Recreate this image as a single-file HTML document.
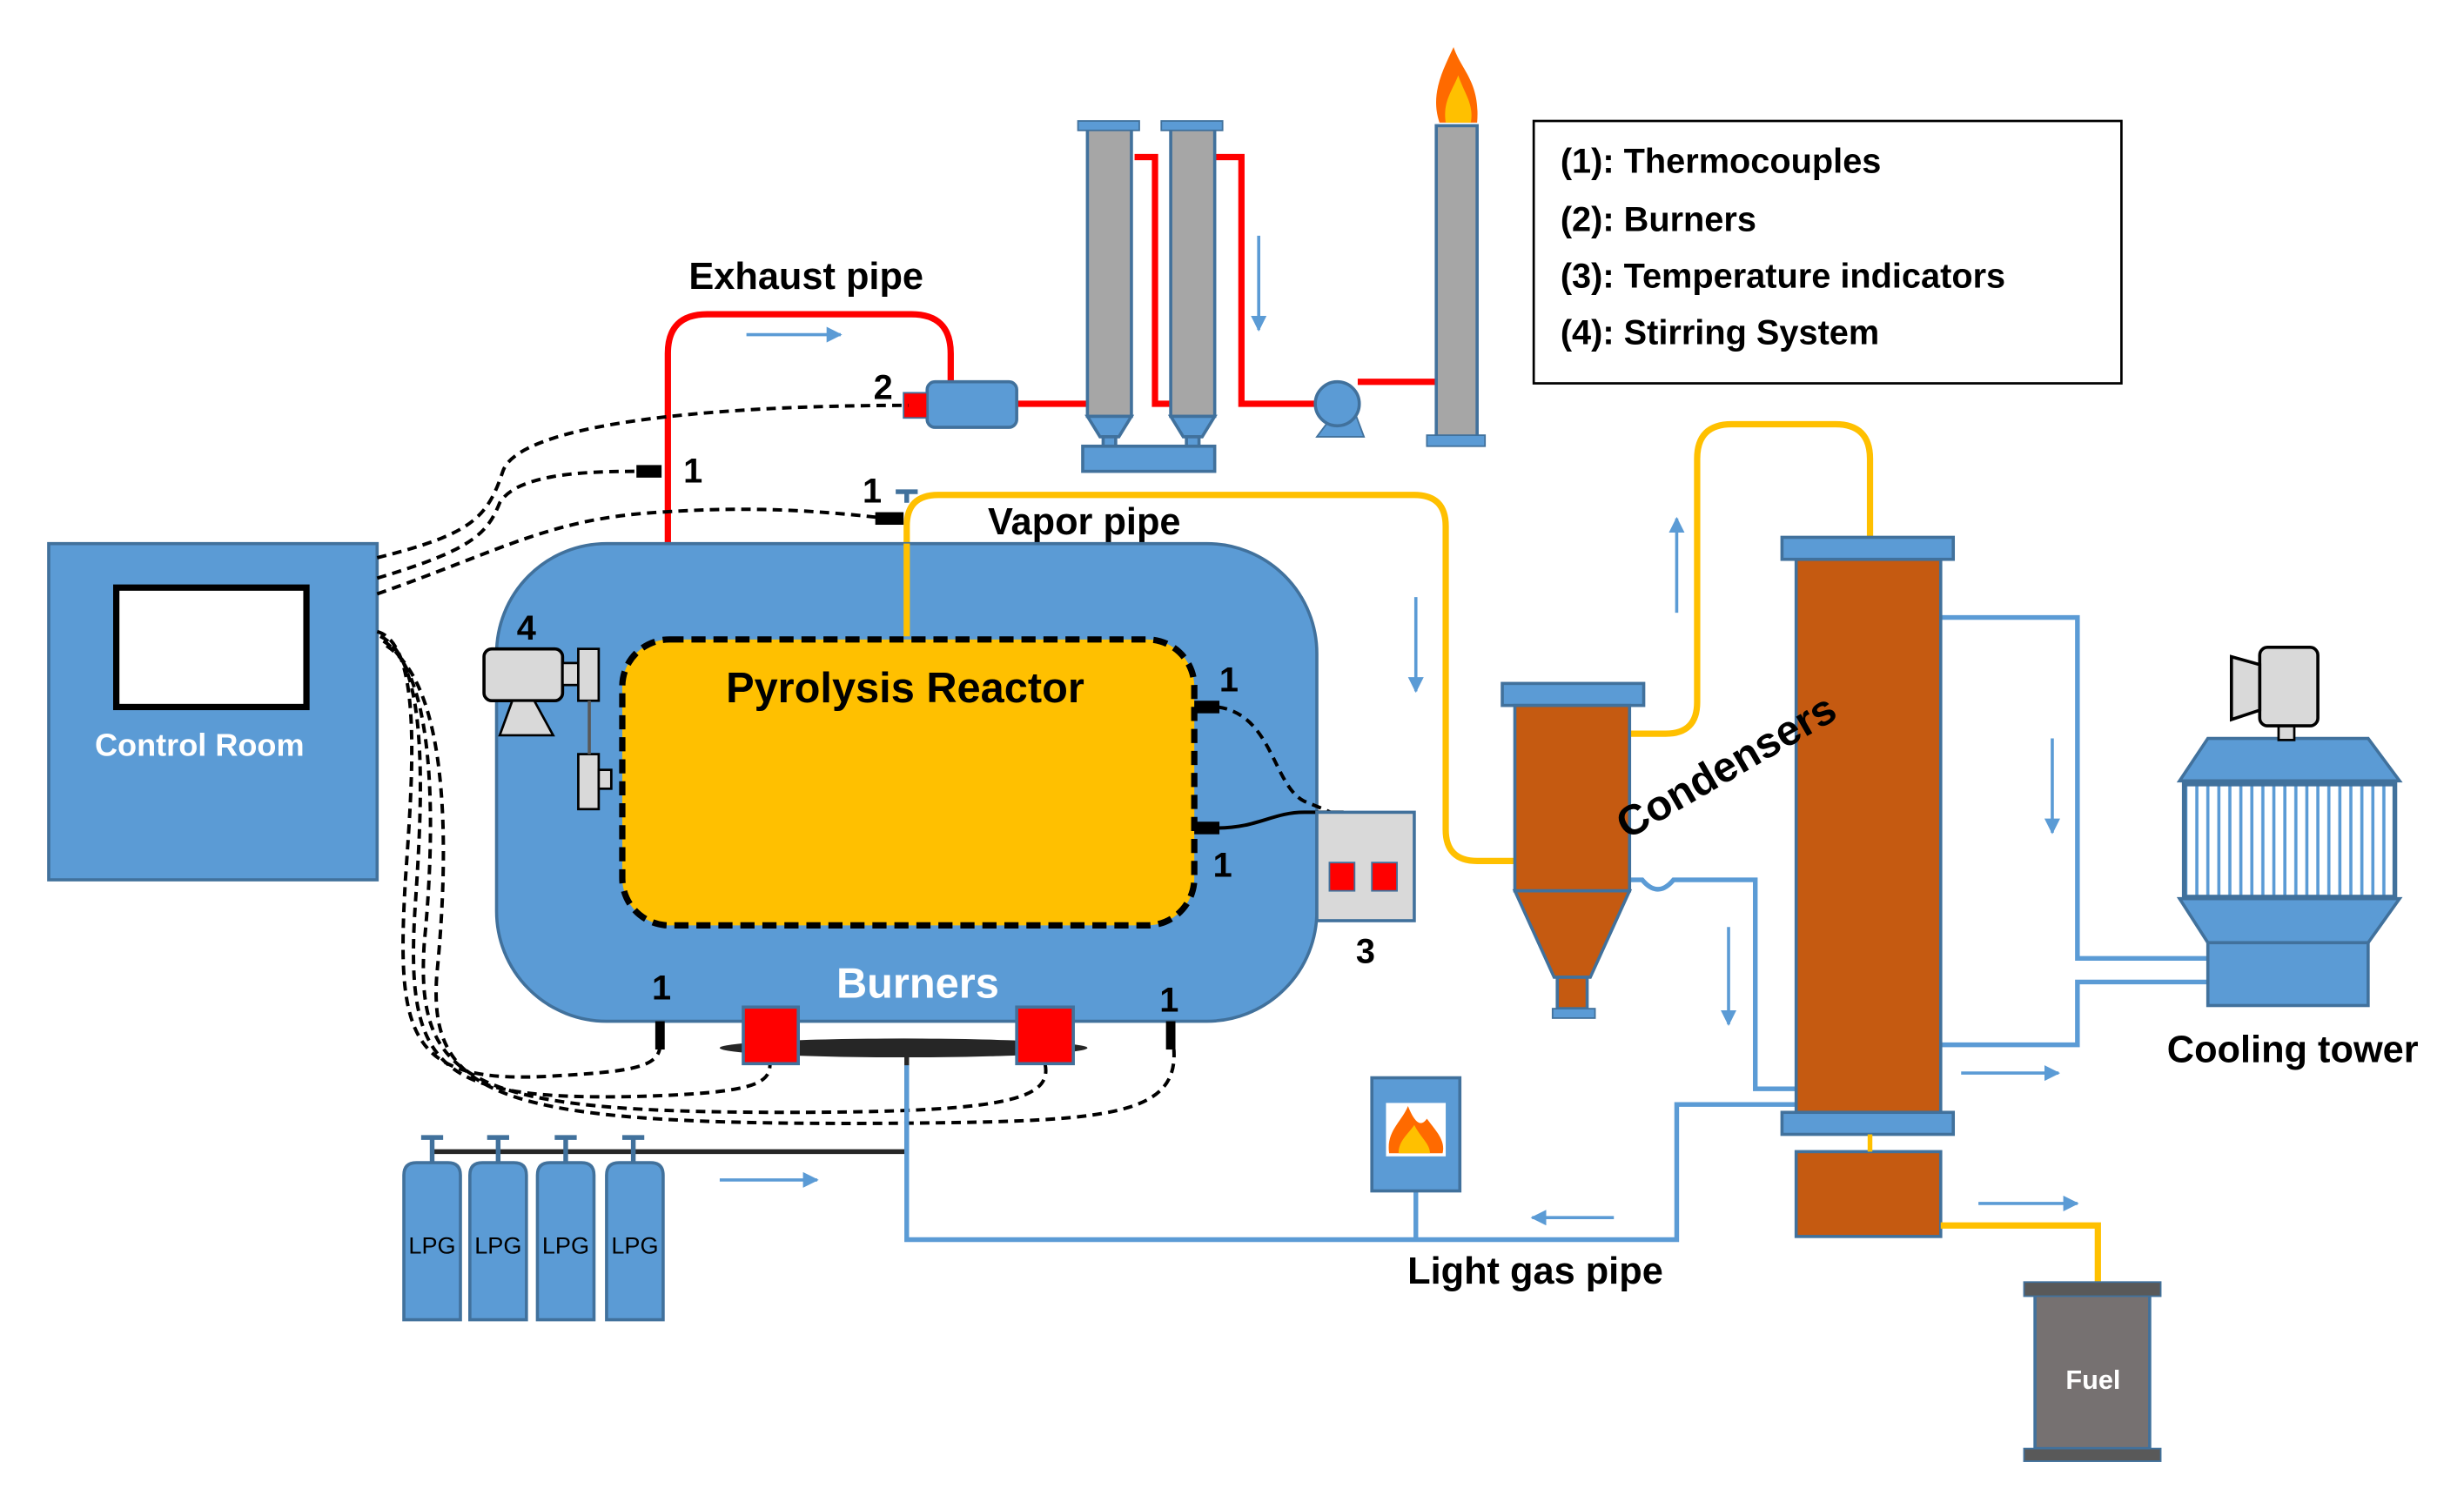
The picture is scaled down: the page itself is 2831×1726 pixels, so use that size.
<!DOCTYPE html>
<html><head><meta charset="utf-8"><style>
html,body{margin:0;padding:0;background:#fff;}
svg{display:block;}
text{font-family:"Liberation Sans",sans-serif;font-weight:bold;}
</style></head><body>
<svg width="2831" height="1726" viewBox="0 0 1568 956" preserveAspectRatio="none" xmlns="http://www.w3.org/2000/svg">
<defs>
<pattern id="str" x="1392" y="0" width="7" height="10" patternUnits="userSpaceOnUse"><rect width="7" height="10" fill="#fff"/><rect x="5" width="2" height="10" fill="#5b9bd5"/></pattern>
<marker id="ar" viewBox="0 0 10 10" refX="9" refY="5" markerWidth="5" markerHeight="5" orient="auto"><path d="M0 0L10 5L0 10z" fill="#5b9bd5"/></marker>
</defs>
<!-- control room -->
<rect x="31" y="346" width="209" height="214" fill="#5b9bd5" stroke="#41719c" stroke-width="2"/>
<rect x="74" y="374" width="121" height="76" fill="#fff" stroke="#000" stroke-width="4"/>
<text x="127" y="481" fill="#fff" font-size="20" text-anchor="middle">Control Room</text>
<!-- exhaust -->
<path d="M425 346 V225 Q425 200 450 200 H580 Q605 200 605 225 V243" fill="none" stroke="#ff0000" stroke-width="4"/>
<path d="M647 257 H700 M722 100 H735 V257 H745 M773 100 H790 V257 H840 M864 243 H914" fill="none" stroke="#ff0000" stroke-width="4"/>
<rect x="590" y="243" width="57" height="29" rx="5" fill="#5b9bd5" stroke="#41719c" stroke-width="2"/>
<rect x="575" y="250" width="15" height="16" fill="#f00" stroke="#41719c"/>
<text x="562" y="254" font-size="22" text-anchor="middle">2</text>
<text x="513" y="184" font-size="24" text-anchor="middle">Exhaust pipe</text>
<line x1="475" y1="213" x2="535" y2="213" stroke="#5b9bd5" stroke-width="2" marker-end="url(#ar)"/>
<!-- columns -->
<g fill="#a6a6a6" stroke="#41719c" stroke-width="2">
<rect x="692" y="82" width="28" height="183"/><rect x="745" y="82" width="28" height="183"/>
<path d="M692 265 H720 L712 278 H700 Z" fill="#5b9bd5"/><path d="M745 265 H773 L765 278 H753 Z" fill="#5b9bd5"/>
<rect x="689" y="284" width="84" height="16" fill="#5b9bd5"/>
<rect x="702" y="278" width="8" height="6" fill="#5b9bd5"/><rect x="755" y="278" width="8" height="6" fill="#5b9bd5"/>
<rect x="914" y="80" width="26" height="198"/>
</g>
<rect x="686" y="77" width="39" height="6" fill="#5b9bd5" stroke="#41719c"/>
<rect x="739" y="77" width="39" height="6" fill="#5b9bd5" stroke="#41719c"/>
<rect x="908" y="277" width="37" height="7" fill="#5b9bd5" stroke="#41719c"/>
<path d="M838 278 L850 262 L862 262 L868 278 Z" fill="#5b9bd5" stroke="#41719c"/>
<circle cx="851" cy="257" r="14" fill="#5b9bd5" stroke="#41719c" stroke-width="2"/>
<path d="M916 78 C910 60 918 45 925 30 C930 45 942 52 940 78 Z" fill="#ff6a00"/>
<path d="M920 78 C918 65 924 58 928 48 C932 60 938 66 936 78 Z" fill="#ffc000"/>
<line x1="801" y1="150" x2="801" y2="210" stroke="#5b9bd5" stroke-width="2" marker-end="url(#ar)"/>
<!-- legend -->
<rect x="976" y="77" width="374" height="167" fill="#fff" stroke="#000" stroke-width="1.5"/>
<g font-size="22"><text x="993" y="110">(1): Thermocouples</text><text x="993" y="147">(2): Burners</text><text x="993" y="183">(3): Temperature indicators</text><text x="993" y="219">(4): Stirring System</text></g>
<!-- vapor pipe -->
<path d="M577 405 V335 Q577 315 597 315 H900 Q920 315 920 335 V528 Q920 548 940 548 H964" fill="none" stroke="#ffc000" stroke-width="4"/>
<path d="M570 313 H584 M577 313 V320" stroke="#41719c" stroke-width="3"/>
<text x="690" y="340" font-size="24" text-anchor="middle">Vapor pipe</text>
<line x1="901" y1="380" x2="901" y2="440" stroke="#5b9bd5" stroke-width="2" marker-end="url(#ar)"/>
<!-- reactor -->
<rect x="316" y="346" width="522" height="304" rx="70" fill="#5b9bd5" stroke="#41719c" stroke-width="2"/>
<rect x="396" y="407" width="364" height="182" rx="30" fill="#ffc000" stroke="#000" stroke-width="4" stroke-dasharray="9,5"/>
<line x1="577" y1="346" x2="577" y2="405" stroke="#ffc000" stroke-width="4"/>
<text x="576" y="447" font-size="27" text-anchor="middle">Pyrolysis Reactor</text>
<text x="584" y="635" font-size="27" fill="#fff" text-anchor="middle">Burners</text>
<!-- wires -->
<g fill="none" stroke="#000" stroke-width="2.2" stroke-dasharray="6,4">
<path d="M240 355 C300 340 310 330 320 300 C330 270 450 258 578 258"/>
<path d="M240 368 C300 350 310 340 318 320 C330 300 380 300 410 300"/>
<path d="M240 378 C320 350 350 330 420 326 C480 322 520 325 565 330"/>
<path d="M240 402 C270 410 262 500 258 560 C252 660 260 690 350 685 C400 682 420 680 420 665"/>
<path d="M242 405 C275 420 268 520 264 580 C258 680 280 700 400 698 C480 696 490 690 490 677"/>
<path d="M244 408 C280 430 276 540 270 600 C264 690 300 708 500 708 C640 708 670 700 665 677"/>
<path d="M246 411 C290 440 284 560 278 620 C272 700 320 716 560 715 C700 714 750 712 747 668"/>
<path d="M775 450 C810 455 810 500 830 510 C845 516 850 518 850 520"/>
</g>
<path d="M775 527 C800 527 810 517 830 517 L855 517" fill="none" stroke="#000" stroke-width="2.2"/>
<!-- stirring -->
<rect x="308" y="413" width="50" height="33" rx="5" fill="#d9d9d9" stroke="#000" stroke-width="2"/>
<path d="M326 446 L340 446 L352 468 L318 468 Z" fill="#d9d9d9" stroke="#000" stroke-width="1.5"/>
<rect x="358" y="422" width="10" height="14" fill="#d9d9d9" stroke="#000" stroke-width="1.5"/>
<rect x="368" y="413" width="13" height="33" fill="#d9d9d9" stroke="#000" stroke-width="1.5"/>
<rect x="368" y="480" width="13" height="35" fill="#d9d9d9" stroke="#000" stroke-width="1.5"/>
<rect x="381" y="490" width="8" height="12" fill="#d9d9d9" stroke="#000" stroke-width="1.5"/>
<line x1="375" y1="446" x2="375" y2="480" stroke="#595959" stroke-width="2"/>
<text x="335" y="407" font-size="22" text-anchor="middle">4</text>
<!-- thermocouples -->
<g fill="#000"><rect x="405" y="296" width="16" height="8"/><rect x="557" y="326" width="18" height="8"/><rect x="760" y="446" width="16" height="8"/><rect x="760" y="523" width="16" height="8"/><rect x="417" y="650" width="6" height="18"/><rect x="742" y="650" width="6" height="18"/></g>
<g font-size="22" text-anchor="middle"><text x="441" y="307">1</text><text x="555" y="320">1</text><text x="782" y="440">1</text><text x="778" y="558">1</text><text x="421" y="636">1</text><text x="744" y="644">1</text><text x="869" y="613">3</text></g>
<!-- temp indicator -->
<rect x="838" y="517" width="62" height="69" fill="#d9d9d9" stroke="#41719c" stroke-width="2"/>
<rect x="846" y="549" width="16" height="18" fill="#f00" stroke="#41719c"/><rect x="873" y="549" width="16" height="18" fill="#f00" stroke="#41719c"/>
<!-- burners -->
<ellipse cx="575" cy="667" rx="117" ry="6" fill="#262626"/>
<rect x="473" y="641" width="35" height="36" fill="#f00" stroke="#41719c" stroke-width="2"/>
<rect x="647" y="641" width="36" height="36" fill="#f00" stroke="#41719c" stroke-width="2"/>
<path d="M577 670 V733 H275" fill="none" stroke="#262626" stroke-width="3"/>
<!-- LPG -->
<g fill="#5b9bd5" stroke="#41719c" stroke-width="2">
<path d="M257 840 V748 Q257 740 265 740 H285 Q293 740 293 748 V840 Z"/>
<path d="M299 840 V748 Q299 740 307 740 H327 Q335 740 335 748 V840 Z"/>
<path d="M342 840 V748 Q342 740 350 740 H370 Q378 740 378 748 V840 Z"/>
<path d="M386 840 V748 Q386 740 394 740 H414 Q422 740 422 748 V840 Z"/>
</g>
<g stroke="#41719c" stroke-width="3"><path d="M268 724H282M275 724V740"/><path d="M310 724H324M317 724V740"/><path d="M353 724H367M360 724V740"/><path d="M396 724H410M403 724V740"/></g>
<g font-size="15" text-anchor="middle"><text x="275" y="798" style="font-weight:normal">LPG</text><text x="317" y="798" style="font-weight:normal">LPG</text><text x="360" y="798" style="font-weight:normal">LPG</text><text x="404" y="798" style="font-weight:normal">LPG</text></g>
<line x1="458" y1="751" x2="520" y2="751" stroke="#5b9bd5" stroke-width="2" marker-end="url(#ar)"/>
<!-- light gas pipe -->
<path d="M1143 703 H1067 V789 H577 V678 M901 789 V758" fill="none" stroke="#5b9bd5" stroke-width="3"/>
<rect x="873" y="686" width="56" height="72" fill="#5b9bd5" stroke="#41719c" stroke-width="2"/>
<rect x="882" y="702" width="38" height="34" fill="#fff"/>
<path d="M884 734 C882 720 892 714 896 704 C900 714 904 718 908 712 C914 720 920 726 918 734 Z" fill="#ff6a00"/>
<path d="M890 734 C890 726 896 722 900 716 C904 724 910 728 910 734 Z" fill="#ffc000"/>
<line x1="1027" y1="775" x2="975" y2="775" stroke="#5b9bd5" stroke-width="2" marker-end="url(#ar)"/>
<text x="977" y="817" font-size="24" text-anchor="middle">Light gas pipe</text>
<!-- condenser 1 -->
<path d="M1037 467 H1060 Q1080 467 1080 447 V292 Q1080 270 1102 270 H1168 Q1190 270 1190 292 V342" fill="none" stroke="#ffc000" stroke-width="4"/>
<path d="M1037 560 H1045 Q1055 572 1065 560 H1117 V693 H1143" fill="none" stroke="#5b9bd5" stroke-width="3"/>
<line x1="1067" y1="390" x2="1067" y2="330" stroke="#5b9bd5" stroke-width="2" marker-end="url(#ar)"/>
<line x1="1100" y1="590" x2="1100" y2="652" stroke="#5b9bd5" stroke-width="2" marker-end="url(#ar)"/>
<rect x="956" y="435" width="90" height="14" fill="#5b9bd5" stroke="#41719c" stroke-width="2"/>
<rect x="964" y="449" width="73" height="118" fill="#c55a11" stroke="#41719c" stroke-width="2"/>
<path d="M964 567 H1037 L1012 622 H989 Z" fill="#c55a11" stroke="#41719c" stroke-width="2"/>
<rect x="991" y="622" width="19" height="20" fill="#c55a11" stroke="#41719c" stroke-width="2"/>
<rect x="988" y="642" width="27" height="6" fill="#5b9bd5" stroke="#41719c"/>
<!-- condenser 2 -->
<path d="M1235 393 H1322 V610 H1405 M1235 665 H1322 V625 H1405" fill="none" stroke="#5b9bd5" stroke-width="3"/>
<rect x="1143" y="356" width="92" height="352" fill="#c55a11" stroke="#41719c" stroke-width="2"/>
<rect x="1134" y="342" width="109" height="14" fill="#5b9bd5" stroke="#41719c" stroke-width="2"/>
<rect x="1134" y="708" width="109" height="14" fill="#5b9bd5" stroke="#41719c" stroke-width="2"/>
<rect x="1143" y="733" width="92" height="54" fill="#c55a11" stroke="#41719c" stroke-width="2"/>
<line x1="1190" y1="722" x2="1190" y2="733" stroke="#ffc000" stroke-width="3"/>
<text x="1098" y="497" font-size="27" text-anchor="middle" transform="rotate(-30 1098 487)">Condensers</text>
<line x1="1306" y1="470" x2="1306" y2="530" stroke="#5b9bd5" stroke-width="2" marker-end="url(#ar)"/>
<line x1="1248" y1="683" x2="1310" y2="683" stroke="#5b9bd5" stroke-width="2" marker-end="url(#ar)"/>
<line x1="1259" y1="766" x2="1322" y2="766" stroke="#5b9bd5" stroke-width="2" marker-end="url(#ar)"/>
<!-- fuel -->
<path d="M1235 780 H1335 V818" fill="none" stroke="#ffc000" stroke-width="4"/>
<rect x="1295" y="824" width="73" height="98" fill="#767171" stroke="#41719c" stroke-width="2"/>
<rect x="1288" y="816" width="87" height="9" fill="#595959" stroke="#41719c"/>
<rect x="1288" y="922" width="87" height="8" fill="#595959" stroke="#41719c"/>
<text x="1332" y="884" font-size="17" fill="#fff" text-anchor="middle">Fuel</text>
<!-- cooling tower -->
<path d="M1405 470 H1507 L1527 497 H1387 Z" fill="#5b9bd5" stroke="#41719c" stroke-width="2"/>
<rect x="1390" y="499" width="134" height="72" fill="url(#str)" stroke="#41719c" stroke-width="3"/>
<path d="M1387 572 H1527 L1507 600 H1405 Z" fill="#5b9bd5" stroke="#41719c" stroke-width="2"/>
<rect x="1405" y="600" width="102" height="40" fill="#5b9bd5" stroke="#41719c" stroke-width="2"/>
<rect x="1450" y="462" width="10" height="9" fill="#d9d9d9" stroke="#000" stroke-width="1.5"/>
<rect x="1438" y="412" width="37" height="50" rx="5" fill="#d9d9d9" stroke="#000" stroke-width="2"/>
<path d="M1438 423 L1420 418 V458 L1438 452 Z" fill="#d9d9d9" stroke="#000" stroke-width="2"/>
<text x="1459" y="676" font-size="24" text-anchor="middle">Cooling tower</text>
</svg>
</body></html>
